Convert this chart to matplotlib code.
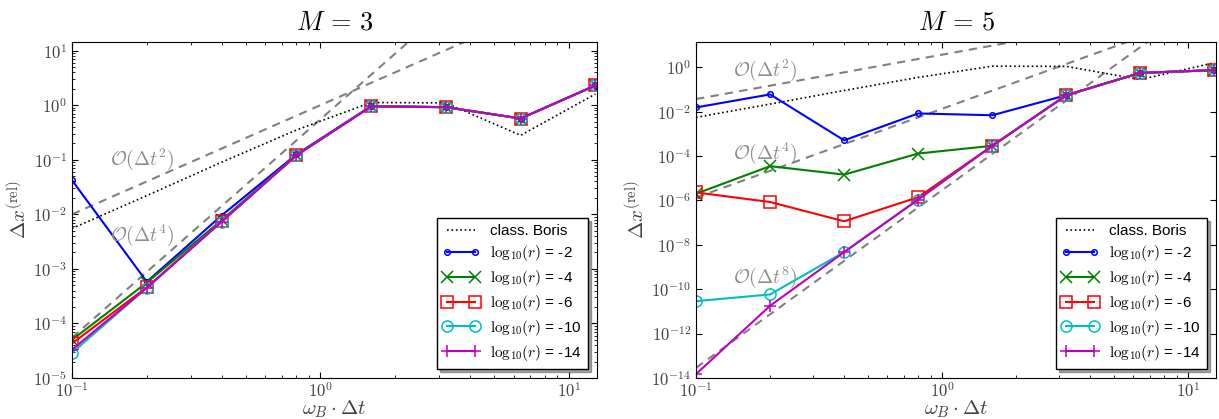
import numpy as np
import matplotlib
matplotlib.use('Agg')
import matplotlib.pyplot as plt
from matplotlib.ticker import LogLocator, FuncFormatter, NullLocator

# time step sizes omega_B * dt
dt = [0.1, 0.2, 0.4, 0.8, 1.6, 3.2, 6.4, 12.8]

# classical Boris, same in both panels
boris = [5.5e-3, 2.2e-2, 9.0e-2, 3.5e-1, 1.12, 1.10, 0.28, 1.6]

# M = 3
m3_r2 = [4.2e-2, 5.8e-4, 9.5e-3, 0.125, 0.96, 0.92, 0.57, 2.3]
m3_r4 = [5.0e-5, 5.6e-4, 7.8e-3, 0.122, 0.95, 0.92, 0.57, 2.3]
m3_r6 = [4.3e-5, 4.6e-4, 7.4e-3, 0.120, 0.95, 0.92, 0.57, 2.3]
m3_r10 = [2.9e-5, 4.5e-4, 7.3e-3, 0.120, 0.95, 0.92, 0.57, 2.3]
m3_r14 = [3.3e-5, 4.5e-4, 7.3e-3, 0.120, 0.95, 0.92, 0.57, 2.3]

# M = 5
m5_r2 = [1.55e-2, 6.0e-2, 5.1e-4, 8.3e-3, 6.9e-3, 5.5e-2, 0.56, 0.74]
m5_r4 = [2.0e-6, 3.5e-5, 1.46e-5, 1.3e-4, 2.9e-4, 5.5e-2, 0.56, 0.74]
m5_r6 = [2.3e-6, 8.5e-7, 1.15e-7, 1.4e-6, 2.9e-4, 5.5e-2, 0.56, 0.74]
m5_r10 = [2.9e-11, 5.8e-11, 4.7e-9, 1.1e-6, 2.9e-4, 5.5e-2, 0.56, 0.74]
m5_r14 = [1.5e-14, 1.8e-11, 4.7e-9, 1.1e-6, 2.9e-4, 5.5e-2, 0.56, 0.74]

# order guide lines, values at dt = 0.1 and dt = 12.8
guide_x = [0.1, 12.8]
m3_guide2 = [1.0e-2, 1.64e2]
m3_guide4 = [5.5e-5, 1.48e4]
m5_guide2 = [3.7e-2, 6.06e2]
m5_guide4 = [1.35e-6, 3.62e2]
m5_guide8 = [2.9e-14, 2.09e3]

log_r = ['-2', '-4', '-6', '-10', '-14']

plt.rcParams['font.family'] = ['Liberation Sans', 'DejaVu Sans']
plt.rcParams['mathtext.fontset'] = 'cm'
plt.rcParams['xtick.direction'] = 'in'
plt.rcParams['ytick.direction'] = 'in'
plt.rcParams['xtick.top'] = True
plt.rcParams['ytick.right'] = True
plt.rcParams['xtick.major.size'] = 4
plt.rcParams['ytick.major.size'] = 4
plt.rcParams['xtick.minor.size'] = 2
plt.rcParams['ytick.minor.size'] = 2

styles = [
    dict(color='b', marker='o', markersize=4),
    dict(color='g', marker='x', markersize=8),
    dict(color='r', marker='s', markersize=8),
    dict(color='c', marker='o', markersize=8),
    dict(color='m', marker='+', markersize=9),
]

pow_fmt = FuncFormatter(lambda v, pos: r'$10^{%d}$' % int(round(np.log10(v))))
guide_kw = dict(color='0.5', linestyle=(0, (4, 3)), linewidth=1.5)
label_kw = dict(color='0.55', fontsize=14, ha='center', va='center')


def draw_panel(ax, series, guides, title, ylim, ystep):
    for g in guides:
        ax.plot(guide_x, g, **guide_kw)
    ax.plot(dt, boris, 'k:', linewidth=1.2, label='class. Boris')
    for vals, st, lr in zip(series, styles, log_r):
        ax.plot(dt, vals, linewidth=1.5, markerfacecolor='none',
                markeredgewidth=1.1,
                label=r'$\mathrm{log}_{10}(r)$ = ' + lr, **st)
    ax.set_xscale('log')
    ax.set_yscale('log')
    ax.set_xlim(0.1, 13.0)
    ax.set_ylim(*ylim)
    ax.xaxis.set_major_formatter(pow_fmt)
    lo = int(np.log10(ylim[0]))
    ax.set_yticks([10.0 ** k for k in range(lo, 1 + 1, ystep)
                   if 10.0 ** k <= ylim[1]])
    ax.yaxis.set_major_formatter(pow_fmt)
    if ystep > 1:
        ax.yaxis.set_minor_locator(NullLocator())
    else:
        ax.yaxis.set_minor_locator(LogLocator(base=10, subs=np.arange(2, 10)))
    ax.tick_params(labelsize=12, labelcolor='0.25')
    ax.tick_params(axis='x', pad=2)
    ax.set_title(title, fontsize=19, pad=9)
    ax.set_xlabel(r'$\omega_B \cdot \Delta t$', fontsize=15, color='0.25',
                  labelpad=-1)
    ax.set_ylabel(r'$\Delta x^{(\mathrm{rel})}$', fontsize=15, color='0.25',
                  labelpad=2)
    leg = ax.legend(loc='lower right', numpoints=2, fontsize=11,
                    fancybox=False, shadow=True, handlelength=2.4,
                    borderaxespad=0.6, labelspacing=0.32, framealpha=1,
                    borderpad=0.4, handletextpad=0.7)
    leg.get_frame().set_edgecolor('k')
    leg.get_frame().set_linewidth(1.0)


fig = plt.figure(figsize=(12.19, 4.19), dpi=100)
ax1 = fig.add_axes([0.0591, 0.0979, 0.4307, 0.8019])
ax2 = fig.add_axes([0.5710, 0.0979, 0.4266, 0.8019])

draw_panel(ax1, [m3_r2, m3_r4, m3_r6, m3_r10, m3_r14],
           [m3_guide2, m3_guide4], r'$M\,=\,3$', (1e-5, 14.4), 1)
ax1.text(0.191, 0.1025, r'$\mathcal{O}(\Delta t^2)$', **label_kw)
ax1.text(0.191, 4.2e-3, r'$\mathcal{O}(\Delta t^4)$', **label_kw)

draw_panel(ax2, [m5_r2, m5_r4, m5_r6, m5_r10, m5_r14],
           [m5_guide2, m5_guide4, m5_guide8], r'$M\,=\,5$', (1e-14, 13.8), 2)
ax2.text(0.191, 0.75, r'$\mathcal{O}(\Delta t^2)$', **label_kw)
ax2.text(0.191, 1.35e-4, r'$\mathcal{O}(\Delta t^4)$', **label_kw)
ax2.text(0.191, 3.4e-10, r'$\mathcal{O}(\Delta t^8)$', **label_kw)

fig.savefig('out.png', dpi=100, facecolor='white')
